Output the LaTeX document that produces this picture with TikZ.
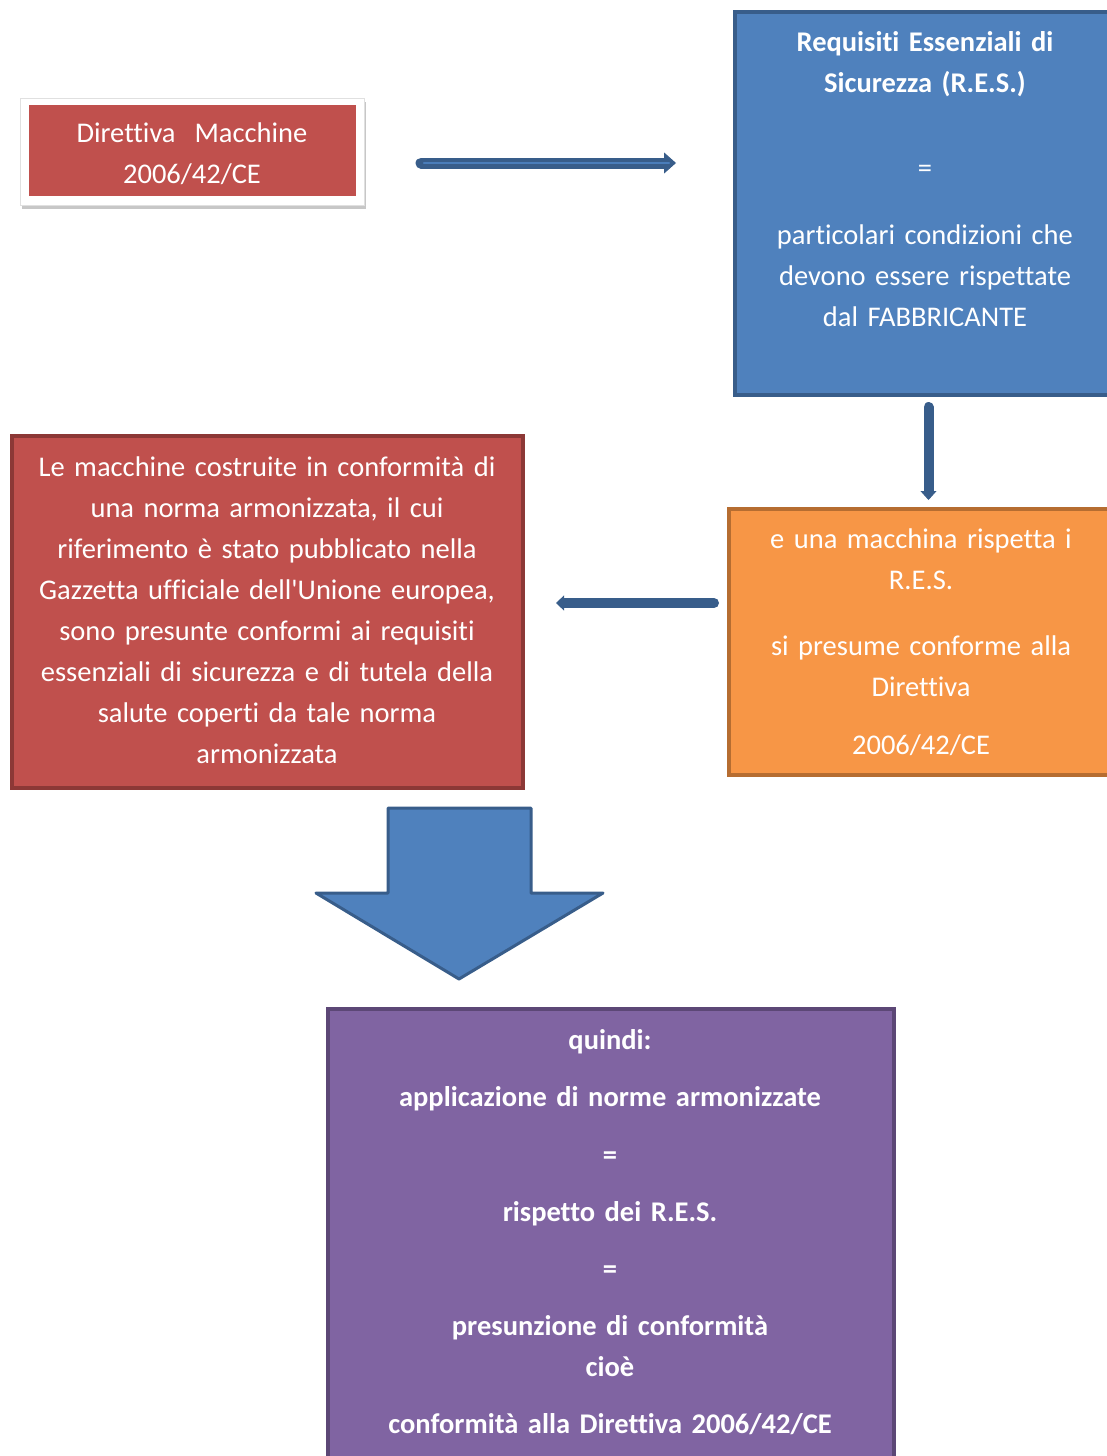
\documentclass[tikz,border=0pt]{standalone}
\usepackage{fontspec}
\setmainfont{Carlito}[Ligatures={NoCommon}]
\usetikzlibrary{arrows.meta,calc,shadows}

\definecolor{redF}{HTML}{C0504D}
\definecolor{redD}{HTML}{8C3836}
\definecolor{bluF}{HTML}{4F81BD}
\definecolor{bluD}{HTML}{385D8A}
\definecolor{bluL}{HTML}{4A7DBA}
\definecolor{oraF}{HTML}{F79646}
\definecolor{oraD}{HTML}{B66D31}
\definecolor{purF}{HTML}{8064A2}
\definecolor{purD}{HTML}{5C4776}

\tikzset{
  box/.style={rectangle, inner sep=0pt, outer sep=0pt, line width=4pt},
  txt/.style={text=white, inner sep=0pt, anchor=base, align=center,
              text width=#1, font=\fontsize{28.5}{41}\selectfont},
  txt/.default=560pt,
  conn/.style={draw=bluD, line width=10pt, line cap=round},
  bigarrow/.style={fill=bluF, draw=bluD, line width=3pt, line join=round},
}

\begin{document}
\begin{tikzpicture}[x=1pt,y=-1pt]
\useasboundingbox (0,0) rectangle (1107,1456);
\clip (0,0) rectangle (1107,1456);

% Direttiva Macchine: white frame with shadow and red panel
\node[box, fill=white, draw=black!12, line width=0.6pt,
      minimum width=344pt, minimum height=107pt,
      drop shadow={shadow xshift=1.5pt, shadow yshift=-3.5pt, fill=black, opacity=0.22}]
      (dm) at (192,151.5) {};
\node[box, fill=redF, minimum width=327pt, minimum height=91pt] (dmin) at (192.5,150.5) {};
\node[txt=320pt] (dmtext) at (192,142.5)
  {Direttiva\ \ Macchine\\2006/42/CE};

% Requisiti Essenziali di Sicurezza
\node[box, fill=bluF, draw=bluD, minimum width=387pt, minimum height=383pt]
      (res) at (928.5,203.5) {};
\node[txt=380pt] (restext) at (925,51.5)
  {\textbf{Requisiti Essenziali di}\\\textbf{Sicurezza (R.E.S.)}\\[44pt]
   =\\[26pt]
   particolari condizioni che\\devono essere rispettate\\dal FABBRICANTE};

% Presunzione di conformita
\node[box, fill=oraF, draw=oraD, minimum width=396pt, minimum height=266pt]
      (ores) at (927,642) {};
\node[txt=380pt] (orestext) at (921,548.5)
  {e una macchina rispetta i\\R.E.S.\\[25pt]
   si presume conforme alla\\Direttiva\\[17pt]
   2006/42/CE};

% Norme armonizzate
\node[box, fill=redF, draw=redD, minimum width=511pt, minimum height=352pt]
      (rbig) at (267.5,612) {};
\node[txt=500pt] (rbigtext) at (267,476.5)
  {Le macchine costruite in conformità di\\
   una norma armonizzata, il cui\\
   riferimento è stato pubblicato nella\\
   Gazzetta ufficiale dell\textquotesingle Unione europea,\\
   sono presunte conformi ai requisiti\\
   essenziali di sicurezza e di tutela della\\
   salute coperti da tale norma\\
   armonizzata};

% Conclusione
\node[box, fill=purF, draw=purD, minimum width=566pt, minimum height=461pt]
      (pur) at (611,1239.5) {};
\node[txt=560pt, font=\fontsize{28.5}{41}\selectfont\bfseries] (purtext) at (610,1049.5)
  {quindi:\\[16pt]
   applicazione di norme armonizzate\\[17pt]
   =\\[16pt]
   rispetto dei R.E.S.\\[16pt]
   =\\[16pt]
   presunzione di conformità\\
   cioè\\[16pt]
   conformità alla Direttiva 2006/42/CE};

% Connectors
\draw[conn, line width=11pt, -{Triangle[length=12pt,width=21pt,line width=1pt]}]
  ($(dm.east)+(57,11.5)$) -- ($(dm.east -| res.west)+(-59,11.5)$);
\draw[draw=bluL, line width=2.5pt, line cap=round]
  ($(dm.east)+(60,11.5)$) -- ($(dm.east -| res.west)+(-66,11.5)$);
\draw[conn, -{Triangle[length=9pt,width=16pt,line width=1pt]}]
  ($(res.south)+(0,12)$) -- ($(res.south |- ores.north)+(0,-9)$);
\draw[conn, -{Triangle[length=8pt,width=15pt,line width=1pt]}]
  ($(ores.west)+(-15,-39)$) -- ($(ores.west -| rbig.east)+(33,-39)$);

% Big block arrow from the rule to the conclusion
\draw[bigarrow] (388,808) -- (531,808) -- (531,893) -- (603,893)
  -- (459,979) -- (316,893) -- (388,893) -- cycle;
\end{tikzpicture}
\end{document}
